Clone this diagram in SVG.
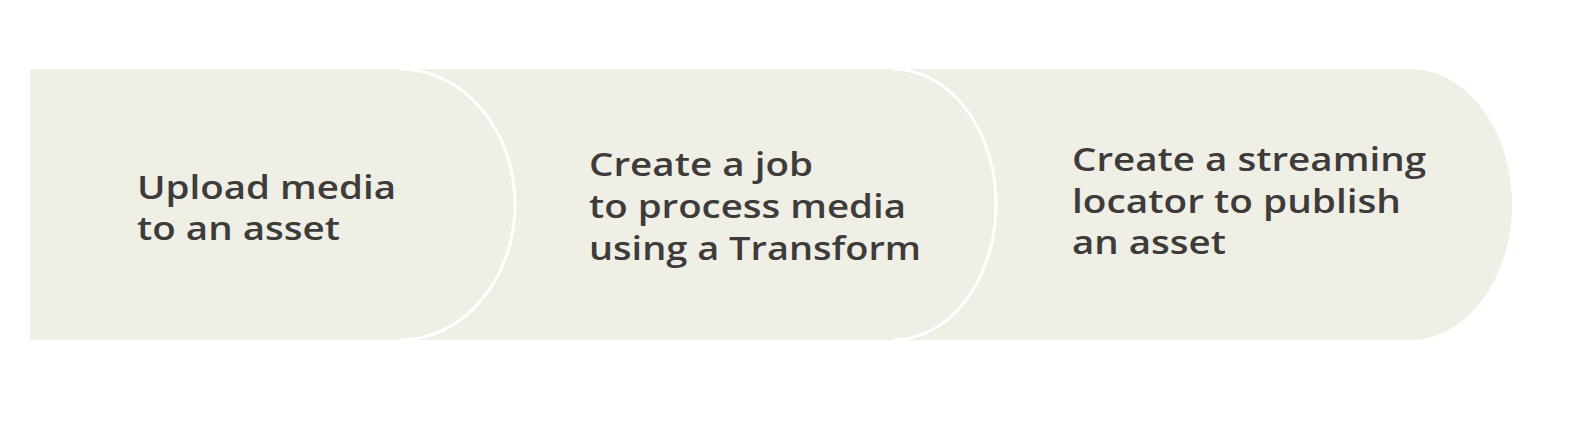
<svg xmlns="http://www.w3.org/2000/svg" width="1572" height="424" viewBox="0 0 1572 424">
  <style>
    .shape { fill: #f0efe6; stroke: none; }
    .edge { fill: none; stroke: #ffffff; stroke-width: 3; }
    .label { font-family: "Open Sans", "Liberation Sans", sans-serif; font-size: 33px; font-weight: 600; fill: #3d3c3b; }
  </style>
  <rect x="0" y="0" width="1572" height="424" fill="#ffffff"/>
  <g id="step3">
    <path class="shape" d="M 880 69 H 1410 A 102 135.5 0 0 1 1410 340 H 880 Z"/>
    <text class="label" x="1072" y="171" textLength="354" lengthAdjust="spacingAndGlyphs">Create a streaming</text>
    <text class="label" x="1072" y="213" textLength="329" lengthAdjust="spacingAndGlyphs">locator to publish</text>
    <text class="label" x="1072" y="254" textLength="154" lengthAdjust="spacingAndGlyphs">an asset</text>
  </g>
  <g id="step2">
    <path class="shape" d="M 390 69 H 893 A 103 135.5 0 0 1 893 340 H 390 Z"/>
    <path class="edge" d="M 893 69 A 103 135.5 0 0 1 893 340"/>
    <text class="label" x="589" y="176" textLength="224" lengthAdjust="spacingAndGlyphs">Create a job</text>
    <text class="label" x="589" y="218" textLength="317" lengthAdjust="spacingAndGlyphs">to process media</text>
    <text class="label" x="589" y="260" textLength="332" lengthAdjust="spacingAndGlyphs">using a Transform</text>
  </g>
  <g id="step1">
    <path class="shape" d="M 30 69 H 400 A 115 135.5 0 0 1 400 340 H 30 Z"/>
    <path class="edge" d="M 400 69 A 115 135.5 0 0 1 400 340"/>
    <text class="label" x="137" y="199" textLength="259" lengthAdjust="spacingAndGlyphs">Upload media</text>
    <text class="label" x="137" y="240" textLength="203" lengthAdjust="spacingAndGlyphs">to an asset</text>
  </g>
  <g id="connectors"></g>
</svg>
